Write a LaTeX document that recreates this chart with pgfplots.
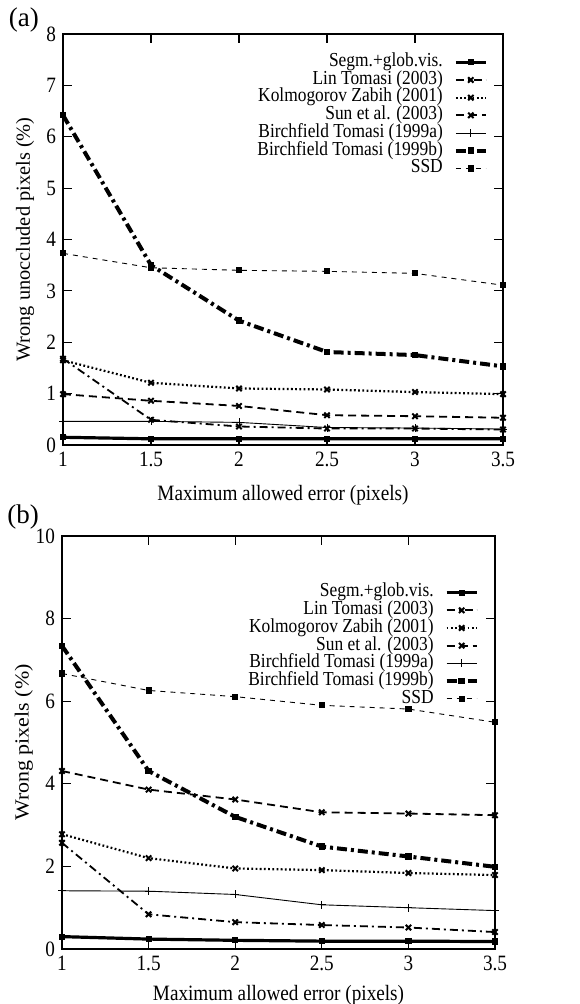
\documentclass[border=0pt]{standalone}
\usepackage{fontspec}
\setmainfont{Liberation Serif}
\usepackage{graphicx}
\usepackage{pgfplots}
\pgfplotsset{compat=1.18}
\newcommand{\vs}[1]{\scalebox{1}[1.14]{#1}}
\pgfplotsset{
  myaxis/.style={
    scale only axis,
    clip=false,
    font=\fontsize{9.6}{11}\selectfont,
    /pgf/number format/assume math mode=true,
    xmin=1, xmax=3.5,
    xtick={1,1.5,2,2.5,3,3.5},
    xticklabel={\vs{\pgfmathprintnumber{\tick}}},
    yticklabel={\vs{\pgfmathprintnumber{\tick}}},
    tick align=inside,
    major tick length=4.3pt,
    axis line style={line width=0.9pt},
    tick style={line width=0.6pt, black},
    legend cell align=right,
    legend plot pos=right,
    legend style={draw=none, fill=none, font=\fontsize{8.7}{9}\selectfont,
      nodes={inner ysep=0pt, inner xsep=1.5pt, text height=6.6pt, text depth=2.25pt}},
    legend image code/.code={\path (0pt,0pt); \draw[mark repeat=2,mark phase=2,#1] plot coordinates {(4pt,0pt)(11.5pt,0pt)(19pt,0pt)};},
  },
  sSegm/.style={black, line width=1.6pt, mark=square*, mark size=1.3pt, mark options={solid, line width=0.5pt}},
  sLin/.style={black, line width=0.9pt, dash pattern=on 4pt off 2pt on 1pt off 2pt, mark=x, mark size=1.9pt, mark options={solid, line width=1pt}},
  sKolm/.style={black, line width=1.1pt, dash pattern=on 0.9pt off 1.2pt, mark=x, mark size=1.9pt, mark options={solid, line width=1pt}},
  sSun/.style={black, line width=0.9pt, dash pattern=on 4pt off 2.5pt, mark=x, mark size=1.9pt, mark options={solid, line width=1pt}},
  sBTa/.style={black, line width=0.45pt, mark=+, mark size=2pt, mark options={solid, line width=0.45pt}},
  sBTb/.style={black, line width=2pt, dash pattern=on 5pt off 2pt on 1.5pt off 2pt, mark=square*, mark size=1.4pt, mark options={solid, line width=0.5pt}},
  sSSD/.style={black, line width=0.45pt, dash pattern=on 2.5pt off 2.5pt, mark=square*, mark size=1.3pt, mark options={solid, line width=0.5pt}},
}
\begin{document}
\begin{tikzpicture}
\useasboundingbox (0,0) rectangle (289.5pt,502pt);
\begin{axis}[myaxis,
  at={(31.5pt,279.5pt)}, anchor=south west,
  width=220pt, height=205.5pt,
  ymin=0, ymax=8, ytick={0,1,2,3,4,5,6,7,8},
  xlabel={\vs{Maximum allowed error (pixels)}},
  ylabel={\fontsize{10}{12}\selectfont\scalebox{1.02}[1]{Wrong unoccluded pixels (\%)}},
  xlabel style={at={(axis description cs:0.5,-0.122)}, anchor=center},
  ylabel style={at={(axis description cs:-0.086,0.5)}, anchor=center},
  legend style={at={(axis description cs:0.98,0.9635)}, anchor=north east},
]
\addplot[sSegm] coordinates {(1,0.15)(1.5,0.12)(2,0.12)(2.5,0.12)(3,0.12)(3.5,0.12)};
\addlegendentry{\vs{Segm.+glob.vis.}}
\addplot[sLin] coordinates {(1,1.68)(1.5,0.49)(2,0.36)(2.5,0.32)(3,0.32)(3.5,0.30)};
\addlegendentry{\vs{Lin Tomasi (2003)}}
\addplot[sKolm] coordinates {(1,1.65)(1.5,1.21)(2,1.10)(2.5,1.08)(3,1.03)(3.5,0.99)};
\addlegendentry{\vs{Kolmogorov Zabih (2001)}}
\addplot[sSun] coordinates {(1,0.99)(1.5,0.86)(2,0.76)(2.5,0.58)(3,0.56)(3.5,0.53)};
\addlegendentry{\vs{Sun et al. (2003)}}
\addplot[sBTa] coordinates {(1,0.46)(1.5,0.46)(2,0.44)(2.5,0.34)(3,0.33)(3.5,0.31)};
\addlegendentry{\vs{Birchfield Tomasi (1999a)}}
\addplot[sBTb] coordinates {(1,6.42)(1.5,3.50)(2,2.42)(2.5,1.81)(3,1.75)(3.5,1.53)};
\addlegendentry{\vs{Birchfield Tomasi (1999b)}}
\addplot[sSSD] coordinates {(1,3.73)(1.5,3.45)(2,3.40)(2.5,3.38)(3,3.34)(3.5,3.11)};
\addlegendentry{\vs{SSD}}
\node[font=\fontsize{13.5}{15}\selectfont] at (axis description cs:-0.089,1.034) {(a)};
\end{axis}
\begin{axis}[myaxis,
  at={(31pt,27.5pt)}, anchor=south west,
  width=216.5pt, height=206.5pt,
  ymin=0, ymax=10, ytick={0,2,4,6,8,10},
  xlabel={\vs{Maximum allowed error (pixels)}},
  ylabel={\fontsize{10}{12}\selectfont\scalebox{1.1}[1]{Wrong pixels (\%)}},
  xlabel style={at={(axis description cs:0.5,-0.111)}, anchor=center},
  ylabel style={at={(axis description cs:-0.088,0.5)}, anchor=center},
  legend style={at={(axis description cs:0.977,0.895)}, anchor=north east},
]
\addplot[sSegm] coordinates {(1,0.30)(1.5,0.24)(2,0.21)(2.5,0.19)(3,0.19)(3.5,0.18)};
\addlegendentry{\vs{Segm.+glob.vis.}}
\addplot[sLin] coordinates {(1,2.57)(1.5,0.84)(2,0.65)(2.5,0.58)(3,0.52)(3.5,0.41)};
\addlegendentry{\vs{Lin Tomasi (2003)}}
\addplot[sKolm] coordinates {(1,2.78)(1.5,2.20)(2,1.95)(2.5,1.91)(3,1.84)(3.5,1.79)};
\addlegendentry{\vs{Kolmogorov Zabih (2001)}}
\addplot[sSun] coordinates {(1,4.31)(1.5,3.86)(2,3.62)(2.5,3.31)(3,3.28)(3.5,3.24)};
\addlegendentry{\vs{Sun et al. (2003)}}
\addplot[sBTa] coordinates {(1,1.41)(1.5,1.40)(2,1.32)(2.5,1.07)(3,1.00)(3.5,0.93)};
\addlegendentry{\vs{Birchfield Tomasi (1999a)}}
\addplot[sBTb] coordinates {(1,7.34)(1.5,4.31)(2,3.20)(2.5,2.48)(3,2.24)(3.5,1.99)};
\addlegendentry{\vs{Birchfield Tomasi (1999b)}}
\addplot[sSSD] coordinates {(1,6.67)(1.5,6.26)(2,6.11)(2.5,5.90)(3,5.81)(3.5,5.49)};
\addlegendentry{\vs{SSD}}
\node[font=\fontsize{13.5}{15}\selectfont] at (axis description cs:-0.09,1.046) {(b)};
\end{axis}
\end{tikzpicture}
\end{document}
